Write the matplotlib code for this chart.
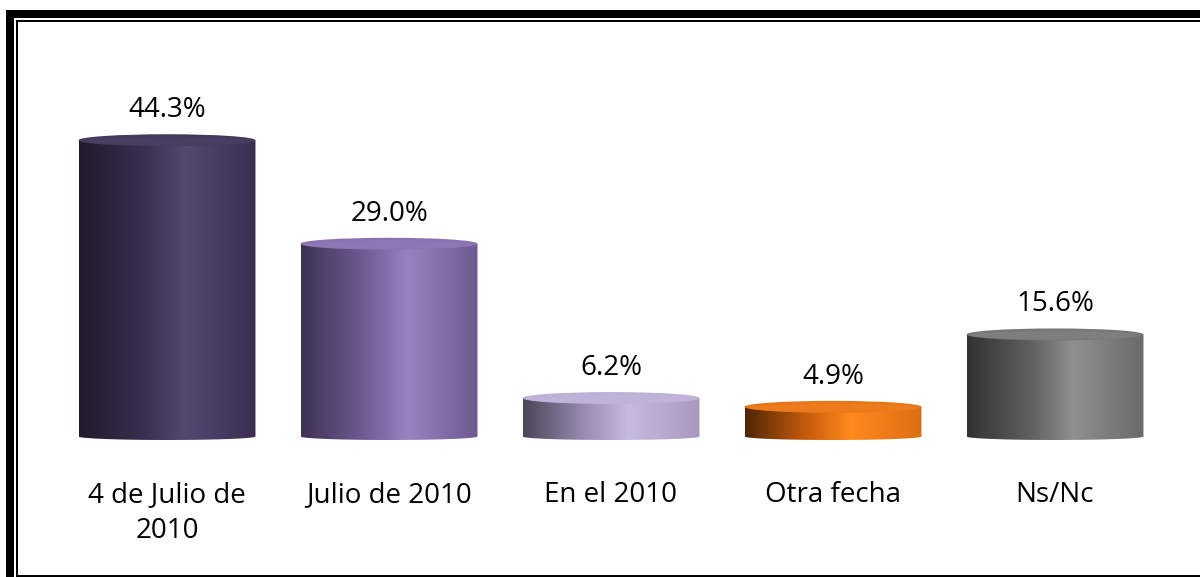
import numpy as np
import matplotlib
matplotlib.use("Agg")
import matplotlib.pyplot as plt
from matplotlib.patches import Rectangle, Ellipse, PathPatch
from matplotlib.path import Path
from matplotlib.colors import LinearSegmentedColormap

categorias = ["4 de Julio de\n2010", "Julio de 2010", "En el 2010", "Otra fecha", "Ns/Nc"]
valores = [44.3, 29.0, 6.2, 4.9, 15.6]
etiquetas = ["44.3%", "29.0%", "6.2%", "4.9%", "15.6%"]

# degradado horizontal de cada cilindro: izquierda, centro, brillo, derecha
gradientes = [
    ["#211a2b", "#3a2d4f", "#554770", "#3b2e51"],
    ["#3e3152", "#6f5a94", "#9a82c0", "#6e5a92"],
    ["#4a4558", "#9c8cb4", "#c8b9e0", "#a898c0"],
    ["#4e2606", "#c85c0c", "#ff8a1e", "#dc6e12"],
    ["#323232", "#5e5e5e", "#909090", "#6a6a6a"],
]
tapas = ["#45395c", "#8a72b0", "#bfb0d6", "#e5761a", "#777777"]

fig = plt.figure(figsize=(12, 5.77), dpi=100)
ax = fig.add_axes([56 / 1200, 137 / 577, 1110 / 1200, 406 / 577])
ax.set_xlim(-0.5, 4.5)
ax.set_ylim(0, 60)
ax.axis("off")

ancho = 0.797
px_y = 60 / 406.0  # % por pixel
tapa_h = 12 * px_y
base_h = 7 * px_y

for i, v in enumerate(valores):
    x0 = i - ancho / 2
    x1 = i + ancho / 2
    cmap = LinearSegmentedColormap.from_list(
        "g%d" % i, list(zip([0.0, 0.35, 0.6, 1.0], gradientes[i])))
    grad = np.linspace(0, 1, 256).reshape(1, -1)

    # cuerpo con fondo curvo
    t = np.linspace(np.pi, 2 * np.pi, 40)
    bx = i + ancho / 2 * np.cos(t)
    by = base_h / 2 * np.sin(t) + base_h / 2
    verts = [(x0, v)] + list(zip(bx, by)) + [(x1, v), (x0, v)]
    cuerpo = Path(verts, closed=True)
    clip = PathPatch(cuerpo, transform=ax.transData, facecolor="none", edgecolor="none")
    ax.add_patch(clip)
    im = ax.imshow(grad, cmap=cmap, extent=[x0, x1, -1, v], aspect="auto",
                   interpolation="bicubic", zorder=2)
    im.set_clip_path(clip)

    # tapa superior
    ax.add_patch(Ellipse((i, v), ancho, tapa_h, facecolor=tapas[i],
                         edgecolor="none", zorder=3))
    ax.add_patch(Ellipse((i, v - tapa_h * 0.08), ancho * 0.96, tapa_h * 0.7,
                         facecolor=gradientes[i][2], edgecolor="none", alpha=0.3, zorder=3))

    ax.text(i, v + 30 * px_y, etiquetas[i], ha="center", va="center",
            fontsize=20, family="Open Sans", color="black")
    ax.text(i, -41 * px_y, categorias[i], ha="center", va="top",
            fontsize=20, family="Open Sans", color="black", linespacing=1.38)

ax.set_aspect("auto")

# marco doble
W, H = 1200.0, 577.0
def rect(x, y, w, h):
    fig.patches.append(Rectangle((x / W, 1 - (y + h) / H), w / W, h / H,
                                 transform=fig.transFigure, facecolor="black",
                                 edgecolor="none", zorder=10))
rect(6, 10, 1194, 8)
rect(6, 10, 8, 567)
rect(16, 20, 1184, 2)
rect(16, 20, 2, 557)
rect(16, 575, 1184, 2)

fig.savefig("out.png", dpi=100, facecolor="white")
